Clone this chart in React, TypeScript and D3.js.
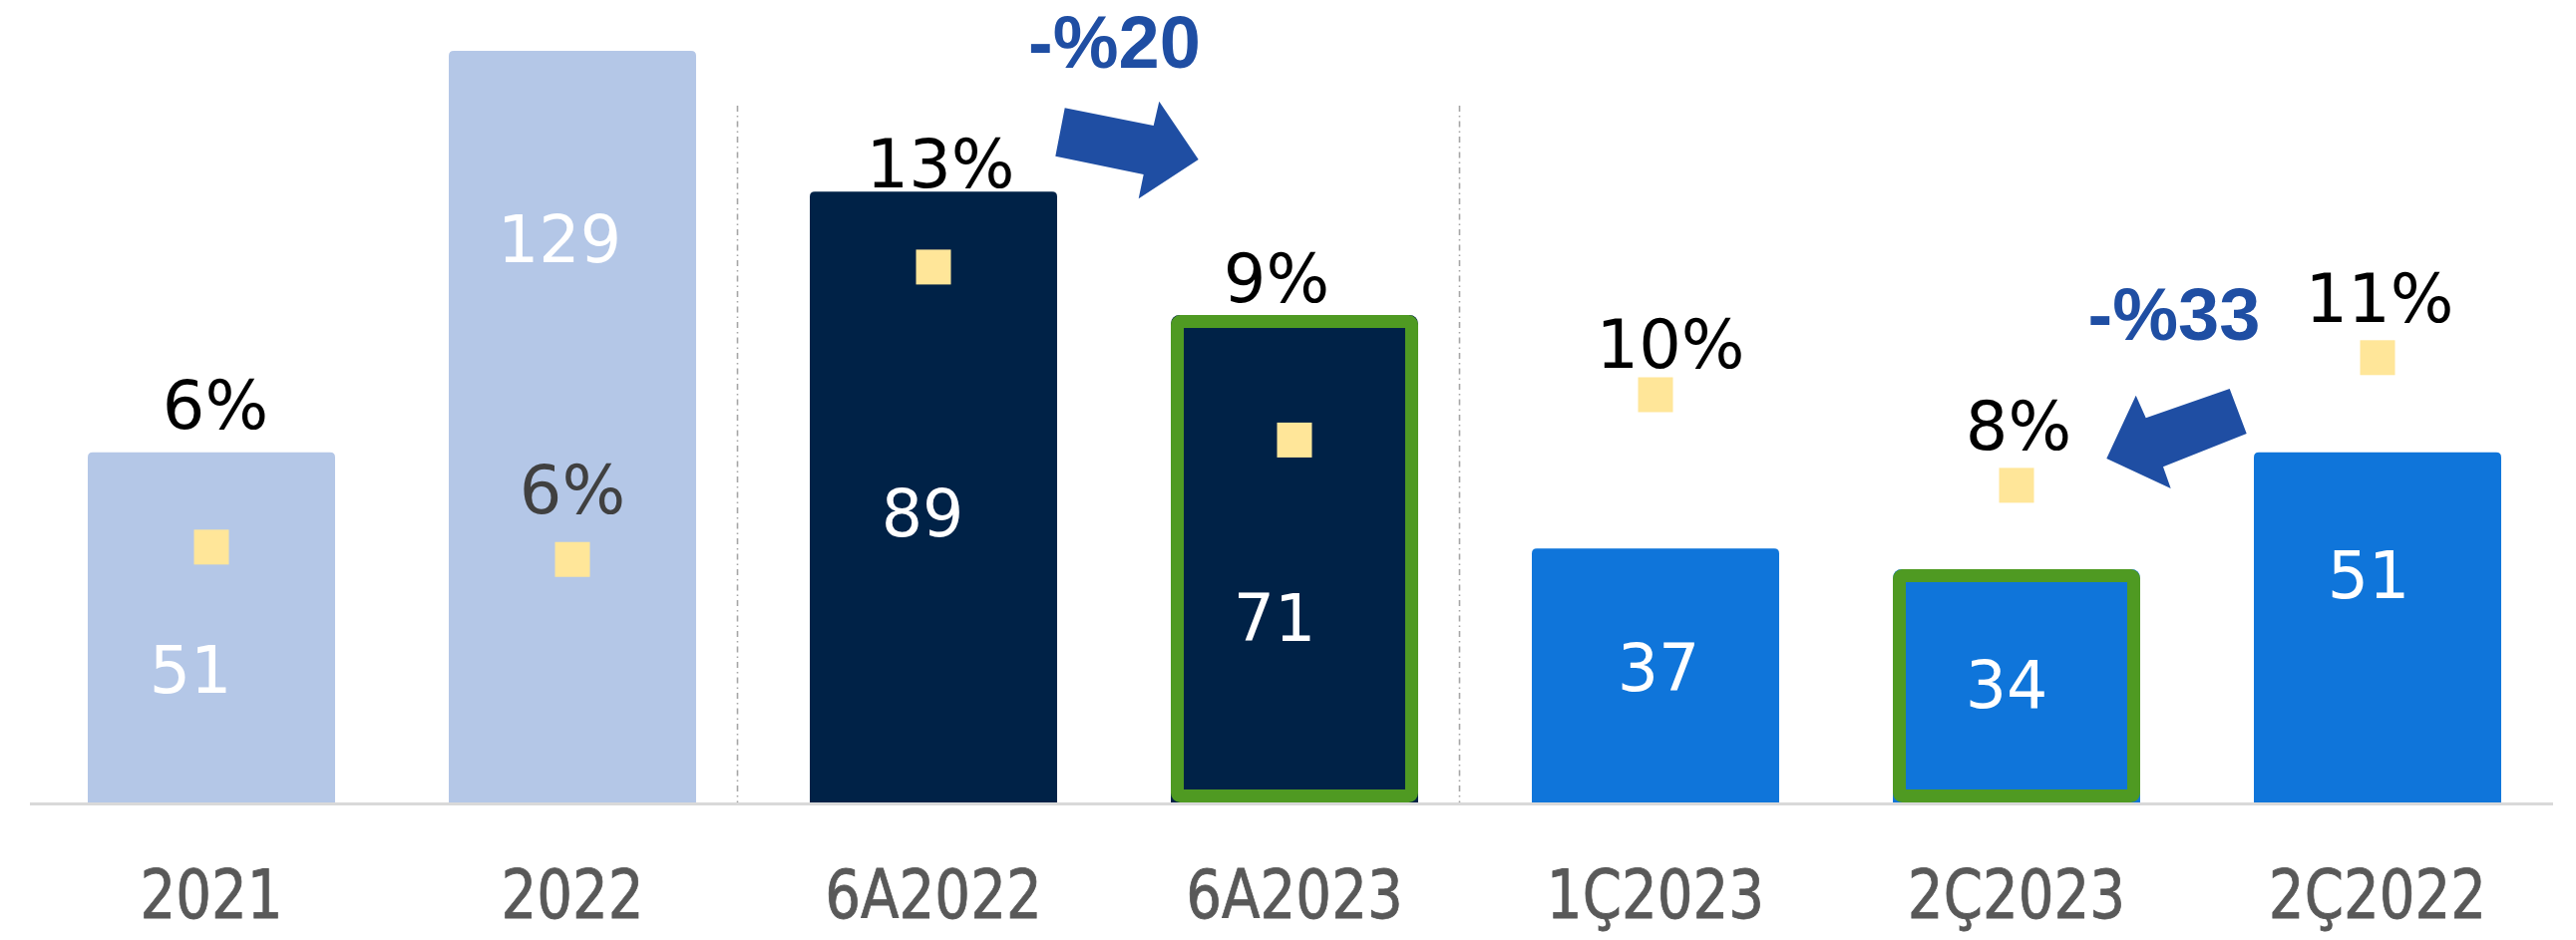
import React from "react";
import * as d3 from "d3";

// ---- data ----
const categories = ["2021", "2022", "6A2022", "6A2023", "1Ç2023", "2Ç2023", "2Ç2022"];
const values = [51, 129, 89, 71, 37, 34, 51];
const margins = [6.2, 5.9, 13.0, 8.8, 9.9, 7.7, 10.8];
const marginLabels = ["6%", "6%", "13%", "9%", "10%", "8%", "11%"];
const periodGroups = ["annual", "annual", "half", "half", "quarter", "quarter", "quarter"];
const highlighted = ["6A2023", "2Ç2023"];
const changeFrom = ["6A2022", "2Ç2023"];
const changeTo = ["6A2023", "2Ç2022"];
const changeLabels = ["-%20", "-%33"];

// ---- layout (label nudges, annotation shapes) ----
const valueLabelNudge = [[-21, 241], [-13, 212], [-11, 346], [-20, 327], [3, 143], [-10, 139], [-9, 146]];
const pctLabelNudge = [[4, -119], [0, -46], [7, -80], [-18, -138], [15, -27], [2, -36], [2, -36]];
const arrowShapes = [
  [[-49.3, 108.3], [-58.7, 156.7], [29.7, 175], [24.7, 199.3], [84.7, 160], [45.3, 101.7], [39.7, 126]],
  [[32.7, 390], [49.7, 435], [-34, 468.3], [-26.3, 490], [-90.7, 460], [-61.3, 396.7], [-51.3, 419.3]],
];
const changeTextPos = [[0.5, 68], [-23, 341]];

const W = 2583;
const H = 943;
const BASE = 805;
const TOP = 51;

const groupColor: Record<string, string> = {
  annual: "#B4C7E7",
  half: "#002247",
  quarter: "#0F75DA",
};

function topRounded(x: number, y: number, w: number, h: number, r: number) {
  return `M${x},${y + h}V${y + r}Q${x},${y} ${x + r},${y}H${x + w - r}Q${x + w},${y} ${x + w},${y + r}V${y + h}Z`;
}

export default function App() {
  const x = d3
    .scaleBand<string>()
    .domain(categories)
    .range([31, 2565])
    .paddingInner(0.315)
    .paddingOuter(0.1575);
  const bw = x.bandwidth();
  const gap = x.step() - bw;
  const yBar = d3.scaleLinear().domain([0, 109.5]).range([BASE, TOP]).clamp(true);
  const yPct = d3.scaleLinear().domain([0, 18.25]).range([BASE, TOP]);

  const cx = (c: string) => (x(c) as number) + bw / 2;

  // separators between period groups
  const seps: number[] = [];
  for (let i = 1; i < categories.length; i++) {
    if (periodGroups[i] !== periodGroups[i - 1]) {
      seps.push((x(categories[i - 1]) as number) + bw + gap / 2 - 15.5);
    }
  }

  const sq = 35;
  const blue = "#1F4EA3";
  const green = "#4F9A22";
  const sw = 13;

  return (
    <svg
      width={W}
      height={H}
      viewBox={`0 0 ${W} ${H}`}
      style={{ position: "absolute", left: 0, top: 0, display: "block", background: "#fff" }}
    >
      <rect x={0} y={0} width={W} height={H} fill="#fff" />
      {/* separators */}
      {seps.map((sx, i) => (
        <line
          key={"sep" + i}
          x1={sx}
          x2={sx}
          y1={106}
          y2={BASE}
          stroke="#a6a6a6"
          strokeWidth={1.6}
          strokeDasharray="6 4 1.5 4"
        />
      ))}
      {/* axis line */}
      <line x1={30} x2={2560} y1={BASE + 1.5} y2={BASE + 1.5} stroke="#d9d9d9" strokeWidth={3} />
      {/* bars */}
      {categories.map((c, i) => {
        const bx = x(c) as number;
        const by = yBar(values[i]);
        const h = BASE - by;
        const isHi = highlighted.includes(c);
        return (
          <g key={"bar" + c}>
            <path d={topRounded(bx, by, bw, h, isHi ? 9.5 : 5)} fill={groupColor[periodGroups[i]]} />
            {isHi && (
              <rect
                x={bx + sw / 2}
                y={by + sw / 2}
                width={bw - sw}
                height={h - sw}
                rx={3}
                fill="none"
                stroke={green}
                strokeWidth={sw}
              />
            )}
          </g>
        );
      })}
      {/* value labels */}
      {categories.map((c, i) => (
        <text
          key={"val" + c}
          x={cx(c) + valueLabelNudge[i][0]}
          y={yBar(values[i]) + valueLabelNudge[i][1]}
          textAnchor="middle"
          fontFamily="'DejaVu Sans', Verdana, sans-serif"
          fontSize={65}
          fill="#ffffff"
        >
          {values[i]}
        </text>
      ))}
      {/* margin markers */}
      {categories.map((c, i) => (
        <rect
          key={"mk" + c}
          x={cx(c) - sq / 2}
          y={yPct(margins[i]) - sq / 2}
          width={sq}
          height={sq}
          fill="#FFE699"
        />
      ))}
      {/* margin labels */}
      {categories.map((c, i) => {
        const ly = yPct(margins[i]) + pctLabelNudge[i][1];
        const inside = ly - 40 > yBar(values[i]);
        return (
          <text
            key={"pct" + c}
            x={cx(c) + pctLabelNudge[i][0]}
            y={ly}
            textAnchor="middle"
            fontFamily="'DejaVu Sans', Verdana, sans-serif"
            fontSize={67}
            fill={inside ? "#404040" : "#000000"}
          >
            {marginLabels[i]}
          </text>
        );
      })}
      {/* category labels */}
      {categories.map((c) => (
        <g key={"cat" + c} transform={`translate(${cx(c)},921) scale(0.92,1)`}>
          <text
            x={0}
            y={0}
            textAnchor="middle"
            fontFamily="'DejaVu Sans Condensed', 'DejaVu Sans', sans-serif"
            fontStretch="condensed"
            fontSize={68}
            fill="#595959"
            stroke="#595959"
            strokeWidth={0.8}
          >
            {c}
          </text>
        </g>
      ))}
      {/* change annotations */}
      {changeLabels.map((t, k) => {
        const ax = (cx(changeFrom[k]) + cx(changeTo[k])) / 2;
        const pts = arrowShapes[k].map((p) => `${ax + p[0]},${p[1]}`).join(" ");
        return (
          <g key={"chg" + k}>
            <polygon points={pts} fill={blue} />
            <text
              x={ax + changeTextPos[k][0]}
              y={changeTextPos[k][1]}
              textAnchor="middle"
              fontFamily="'Liberation Sans', Arial, sans-serif"
              fontWeight="bold"
              fontSize={74}
              fill={blue}
            >
              {t}
            </text>
          </g>
        );
      })}
    </svg>
  );
}
